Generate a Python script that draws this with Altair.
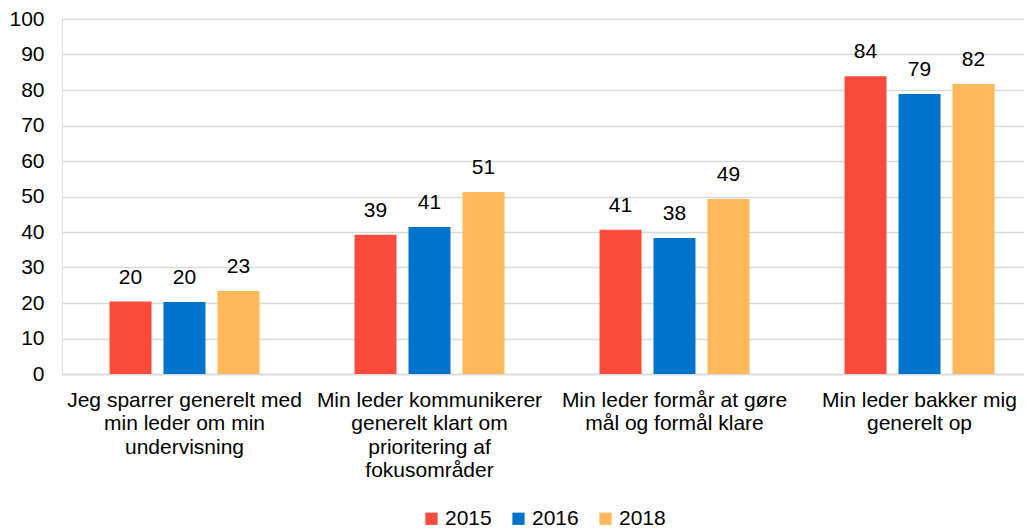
import altair as alt
import pandas as pd

categories = [
    "Jeg sparrer generelt med|min leder om min|undervisning",
    "Min leder kommunikerer|generelt klart om|prioritering af|fokusområder",
    "Min leder formår at gøre|mål og formål klare",
    "Min leder bakker mig|generelt op",
]
years = ["2015", "2016", "2018"]
values_2015 = [20.4, 39.2, 40.6, 83.9]
values_2016 = [20.3, 41.4, 38.3, 78.9]
values_2018 = [23.4, 51.3, 49.3, 81.7]
colors = ["#FA4B3C", "#0073CC", "#FFB85A"]
y_ticks = [0, 10, 20, 30, 40, 50, 60, 70, 80, 90, 100]

rows = []
for year, vals in zip(years, [values_2015, values_2016, values_2018]):
    for cat, v in zip(categories, vals):
        rows.append({"cat": cat, "year": year, "value": v})
df = pd.DataFrame(rows)

FONT = "Liberation Sans"
FS = 21

x = alt.X(
    "cat:N",
    sort=categories,
    title=None,
    scale=alt.Scale(range=[0, 980], paddingInner=0.388, paddingOuter=0.194),
    axis=alt.Axis(
        labelExpr="split(datum.label, '|')",
        labelAngle=0,
        labelFont=FONT,
        labelFontSize=FS,
        labelColor="#000000",
        labelPadding=15,
        labelLineHeight=23.5,
        labelLimit=300,
        ticks=False,
        domainColor="#d9d9d9",
        domainWidth=1.5,
        grid=False,
    ),
)
xoff = alt.XOffset("year:N", sort=years, scale=alt.Scale(paddingInner=0.222, paddingOuter=0))
y = alt.Y(
    "value:Q",
    title=None,
    scale=alt.Scale(domain=[0, 100], nice=False),
    axis=alt.Axis(
        values=y_ticks,
        labelFont=FONT,
        labelFontSize=FS,
        labelColor="#000000",
        labelPadding=18,
        ticks=False,
        domain=False,
        gridColor="#d9d9d9",
        gridWidth=1.5,
    ),
)
color = alt.Color(
    "year:N",
    sort=years,
    scale=alt.Scale(domain=years, range=colors),
    legend=alt.Legend(
        title=None,
        orient="none",
        direction="horizontal",
        legendX=359,
        legendY=489,
        symbolType="square",
        symbolSize=150,
        symbolStrokeWidth=0,
        labelFont=FONT,
        labelFontSize=FS,
        labelColor="#000000",
        labelOffset=3,
        columnPadding=16,
    ),
)

base = alt.Chart(df)
bars = base.mark_bar().encode(x=x, xOffset=xoff, y=y, color=color)
labels = base.mark_text(dy=-24, font=FONT, fontSize=FS, color="#000000").encode(
    x=x, xOffset=xoff, y=y, text=alt.Text("value:Q", format=".0f")
)

chart = (
    alt.layer(bars, labels)
    .properties(
        width=962,
        height=355,
        autosize=alt.AutoSizeParams(type="none"),
        padding={"left": 54, "top": 11, "right": 0, "bottom": 156},
    )
    .configure_view(stroke=None)
    .configure(background="#ffffff")
)

chart.save("out.html", embed_options={"renderer": "svg", "actions": False})
